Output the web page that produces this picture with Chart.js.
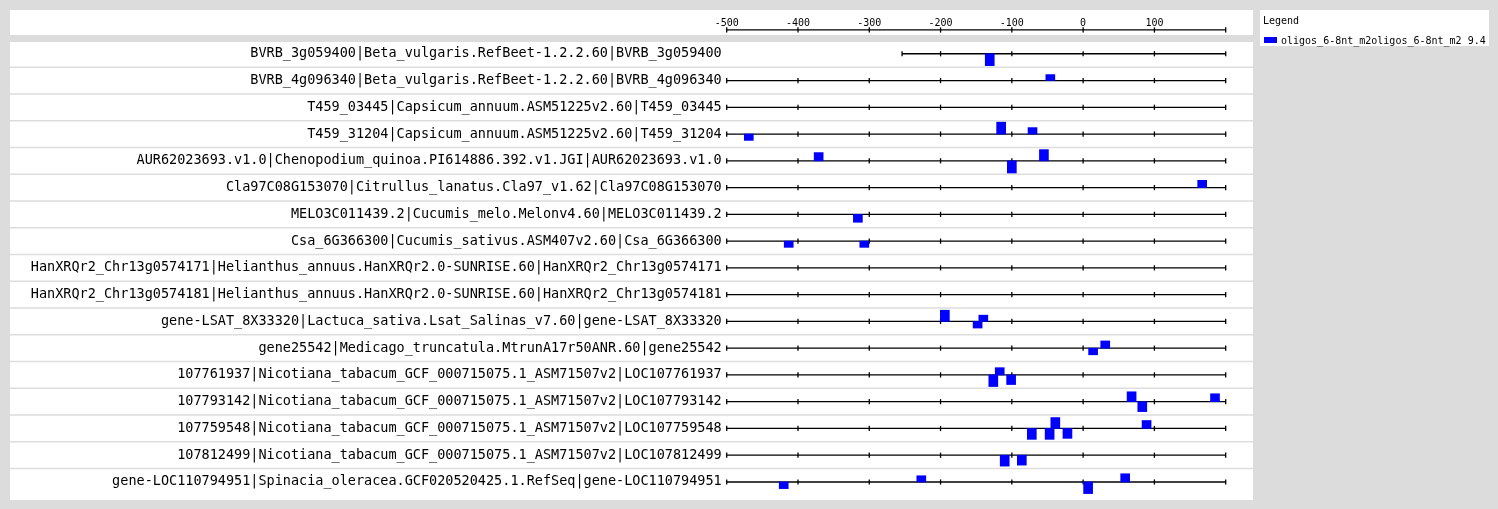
<!DOCTYPE html>
<html>
<head>
<meta charset="utf-8">
<script src="https://cdn.jsdelivr.net/npm/chart.js@4.4.1/dist/chart.umd.min.js"></script>
<style>
  body { margin: 0; background: #dcdcdc; }
  #wrap { position: absolute; left: 0; top: 0; width: 1498px; height: 509px; }
  #legend {
    position: absolute; left: 1260px; top: 10px; width: 229px; height: 36px;
    background: #fff; font: 10px "DejaVu Sans Mono", monospace; color: #000;
  }
  #legend .title { position: absolute; left: 3px; top: 5px; }
  #legend .item { position: absolute; left: 4px; top: 25px; white-space: nowrap; }
  #legend .box { display: inline-block; width: 13px; height: 6px; margin-right: 4px; vertical-align: 1px; }
</style>
</head>
<body>
<div id="wrap">
  <canvas id="motifChart" width="1498" height="509"></canvas>
  <div id="legend"></div>
</div>
<script>
// sequences (one row each)
const rowLabels = [
  "BVRB_3g059400|Beta_vulgaris.RefBeet-1.2.2.60|BVRB_3g059400",
  "BVRB_4g096340|Beta_vulgaris.RefBeet-1.2.2.60|BVRB_4g096340",
  "T459_03445|Capsicum_annuum.ASM51225v2.60|T459_03445",
  "T459_31204|Capsicum_annuum.ASM51225v2.60|T459_31204",
  "AUR62023693.v1.0|Chenopodium_quinoa.PI614886.392.v1.JGI|AUR62023693.v1.0",
  "Cla97C08G153070|Citrullus_lanatus.Cla97_v1.62|Cla97C08G153070",
  "MELO3C011439.2|Cucumis_melo.Melonv4.60|MELO3C011439.2",
  "Csa_6G366300|Cucumis_sativus.ASM407v2.60|Csa_6G366300",
  "HanXRQr2_Chr13g0574171|Helianthus_annuus.HanXRQr2.0-SUNRISE.60|HanXRQr2_Chr13g0574171",
  "HanXRQr2_Chr13g0574181|Helianthus_annuus.HanXRQr2.0-SUNRISE.60|HanXRQr2_Chr13g0574181",
  "gene-LSAT_8X33320|Lactuca_sativa.Lsat_Salinas_v7.60|gene-LSAT_8X33320",
  "gene25542|Medicago_truncatula.MtrunA17r50ANR.60|gene25542",
  "107761937|Nicotiana_tabacum_GCF_000715075.1_ASM71507v2|LOC107761937",
  "107793142|Nicotiana_tabacum_GCF_000715075.1_ASM71507v2|LOC107793142",
  "107759548|Nicotiana_tabacum_GCF_000715075.1_ASM71507v2|LOC107759548",
  "107812499|Nicotiana_tabacum_GCF_000715075.1_ASM71507v2|LOC107812499",
  "gene-LOC110794951|Spinacia_oleracea.GCF020520425.1.RefSeq|gene-LOC110794951"
];
const rowStart = [-254, -500, -500, -500, -500, -500, -500, -500, -500, -500, -500, -500, -500, -500, -500, -500, -500];
const rowEnd = 200;
const xTicks = [-500, -400, -300, -200, -100, 0, 100];

// motif hits: row, centre position, strand (+1 above / -1 below), score
const motifRow    = [0,    1,   3,    3,    3,   4,    4,    4,   5,   6,    7,    7,    10,   10,   10,  11,  11,  12,   12,   12,   13, 13, 13,  14,  14,    14,  14,    14, 15,   15,  16,   16,    16,  16];
const motifPos    = [-131, -46, -469, -115, -71, -371, -100, -55, 167, -316, -413, -307, -194, -140, -148, 14,  31,  -117, -126, -101, 68, 83, 185, -39, -72,   -47, -22,   89, -110, -86, -420, -227,  59,  7];
const motifStrand = [-1,   1,   -1,   1,    1,   1,    -1,   1,   1,   -1,   -1,   -1,   1,    1,    -1,  -1,  1,   1,    -1,   -1,   1,  -1, 1,   1,   -1,    -1,  -1,    1,  -1,   -1,  -1,   1,     1,   -1];
const motifScore  = [12,   6,   6.4,  12,   6.5, 8.3,  12.3, 11.3, 7.3, 8,   6.3,  6.3,  11.3, 6.3,  6.7, 6.7, 7.3, 7.3,  11.7, 9.7,  10, 10, 8,   11,  11,    11,  10,    8,  11,   10,  6.7,  6.3,   8.3, 11.7];

const legendLabel = "oligos_6-8nt_m2oligos_6-8nt_m2 9.4";
const MONO = '"DejaVu Sans Mono", monospace';
const ROW_PX = 27;   // score is drawn as pixel height, one row is 27px
const AXIS_ROW = -24 / ROW_PX;

// backbone of each sequence with a tick every 100
function backbone(start, row) {
  const pts = [{ x: start, y: row }];
  for (let t = Math.ceil((start + 1) / 100) * 100; t <= rowEnd; t += 100) {
    pts.push({ x: t, y: row });
  }
  return pts;
}

const lineStyle = {
  type: "line",
  borderColor: "#000",
  borderWidth: 1.3,
  pointStyle: "line",
  pointRotation: 90,
  pointRadius: 2.6,
  pointBorderWidth: 1.3,
  pointBorderColor: "#000",
  pointHoverRadius: 0,
  clip: false,
  order: 1
};

const datasets = [];
datasets.push(Object.assign({ label: "axis", data: backbone(-500, AXIS_ROW) }, lineStyle));
rowLabels.forEach((name, i) => {
  datasets.push(Object.assign({ label: name, data: backbone(rowStart[i], i) }, lineStyle));
});
datasets.push({
  type: "bar",
  label: legendLabel,
  data: motifPos.map((p, k) => ({
    x: p,
    y: [motifRow[k], motifRow[k] - motifStrand[k] * motifScore[k] / ROW_PX]
  })),
  backgroundColor: "#0000ff",
  borderWidth: 0,
  barThickness: 9,
  clip: false,
  order: 0,
  legend: true
});

// white panels and row separators
const panels = {
  id: "panels",
  beforeDraw(chart) {
    const ctx = chart.ctx;
    const y = chart.scales.y;
    ctx.save();
    ctx.fillStyle = "#fff";
    ctx.fillRect(10, 10, 1243, 25);
    ctx.fillRect(10, 42, 1243, 458);
    ctx.strokeStyle = "#dddddd";
    ctx.lineWidth = 1.5;
    for (let i = 0; i < rowLabels.length - 1; i++) {
      const py = y.getPixelForValue(i + 0.5);
      ctx.beginPath();
      ctx.moveTo(10, py);
      ctx.lineTo(1253, py);
      ctx.stroke();
    }
    ctx.restore();
  }
};

const htmlLegend = {
  id: "htmlLegend",
  afterUpdate(chart) {
    const el = document.getElementById("legend");
    const items = chart.data.datasets.filter(d => d.legend);
    el.innerHTML = '<div class="title">Legend</div>' + items.map(d =>
      '<div class="item"><span class="box" style="background:' + d.backgroundColor + '"></span>' + d.label + '</div>'
    ).join("");
  }
};

new Chart(document.getElementById("motifChart"), {
  data: { datasets: datasets },
  options: {
    responsive: false,
    animation: false,
    layout: { padding: { left: 0, right: 1498 - 1225.7, top: 0, bottom: 9 } },
    plugins: { legend: { display: false }, tooltip: { enabled: false } },
    events: [],
    scales: {
      x: {
        type: "linear",
        position: "top",
        offset: false,
        min: -500,
        max: rowEnd,
        afterFit(scale) { scale.height = 27; },
        afterBuildTicks(scale) { scale.ticks = xTicks.map(v => ({ value: v })); },
        grid: { display: false, drawTicks: false, offset: false },
        border: { display: false },
        ticks: { color: "#000", font: { family: MONO, size: 10 }, padding: -2, maxRotation: 0 }
      },
      y: {
        type: "linear",
        reverse: true,
        min: -1,
        max: 16.52,
        afterFit(scale) { scale.width = 726.7; },
        afterBuildTicks(scale) { scale.ticks = rowLabels.map((_, i) => ({ value: i })); },
        grid: { display: false, drawTicks: false },
        border: { display: false },
        ticks: {
          color: "#000",
          font: { family: MONO, size: 13.5 },
          padding: 5,
          callback: v => rowLabels[v]
        }
      }
    }
  },
  plugins: [panels, htmlLegend]
});
</script>
</body>
</html>
